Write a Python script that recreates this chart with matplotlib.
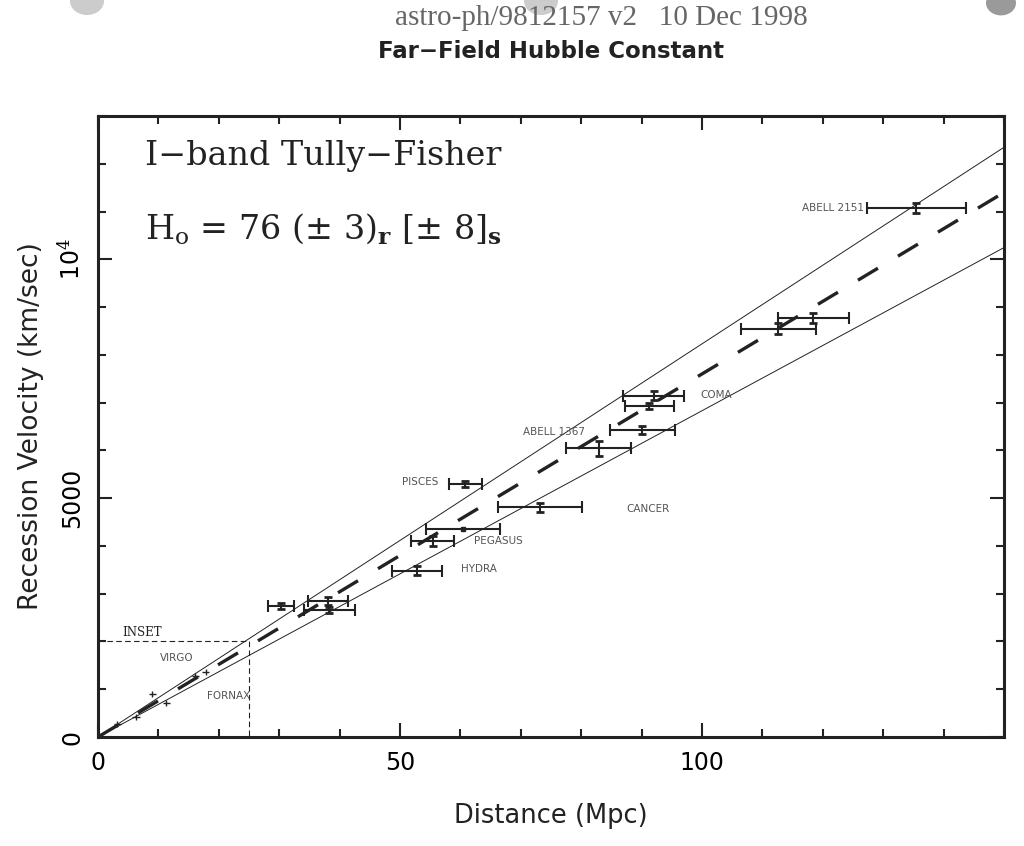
import matplotlib
matplotlib.use("Agg")
import matplotlib.pyplot as plt
from matplotlib.patches import Circle

# ---- data ----
cluster_dist = [135.5, 118.4, 112.6, 92.0, 91.3, 90.1, 82.9, 60.8, 73.2, 55.4, 52.8, 30.3, 38.1, 38.3]
cluster_vel = [11070, 8770, 8550, 7140, 6925, 6420, 6040, 5290, 4805, 4105, 3480, 2745, 2850, 2657]
cluster_derr = [8.2, 5.9, 6.2, 5.1, 4.1, 5.4, 5.4, 2.7, 7.0, 3.6, 4.2, 2.2, 3.3, 4.2]
cluster_verr = [100, 110, 120, 95, 60, 85, 155, 65, 90, 100, 90, 70, 80, 60]

square_dist = [60.4]
square_vel = [4360]
square_derr = [6.1]

near_dist = [3.2, 6.3, 9.0, 11.3, 16.1, 17.8]
near_vel = [265, 425, 900, 705, 1280, 1355]

label_names = ["ABELL 2151", "COMA", "ABELL 1367", "PISCES", "CANCER", "PEGASUS", "HYDRA", "VIRGO", "FORNAX"]
label_x = [126.8, 99.7, 70.4, 50.3, 87.4, 62.3, 60.1, 10.3, 18.0]
label_y = [11070, 7155, 6381, 5335, 4770, 4100, 3515, 1653, 858]
label_ha = ["right", "left", "left", "left", "left", "left", "left", "left", "left"]

H0 = 76
H_upper = 82.3
H_lower = 68.3
inset_d = 25
inset_v = 2000

xlim = (0, 150)
ylim = (0, 13000)

# ---- figure ----
plt.rcParams['mathtext.fontset'] = 'dejavuserif'
fig = plt.figure(figsize=(10.24, 8.46), dpi=100)
fig.patch.set_facecolor("white")

# punched-hole shadows at the top edge
for cx, cy, r, c in [(87, 1, 17, "#cccccc"), (541, 1, 17, "#cccccc"), (1001, 3, 15, "#9a9a9a")]:
    fig.patches.append(Circle((cx/1024, 1-cy/846), r/1024, transform=fig.transFigure,
                              facecolor=c, edgecolor="none", zorder=0))

ax = fig.add_axes([98/1024, 1-737/846, (1004-98)/1024, (737-116)/846])

ink = "#222222"

# lines
xs = [0, xlim[1]]
ax.plot(xs, [0, H_upper*xlim[1]], color=ink, lw=0.7)
ax.plot(xs, [0, H_lower*xlim[1]], color=ink, lw=0.7)
ax.plot(xs, [0, H0*xlim[1]], color=ink, lw=2.4, dashes=(7, 7))

# inset box
ax.plot([0, inset_d, inset_d], [inset_v, inset_v, 0], color=ink, lw=0.8, dashes=(5, 3))
ax.text(4.0, inset_v + 60, "INSET", fontsize=8.5, family="DejaVu Serif", color=ink, va="bottom")

# errorbars
ax.errorbar(cluster_dist, cluster_vel, xerr=cluster_derr, fmt="none", ecolor=ink,
            elinewidth=1.5, capsize=4, capthick=1.5)
ax.errorbar(cluster_dist, cluster_vel, yerr=cluster_verr, fmt="none", ecolor=ink,
            elinewidth=1.5, capsize=3, capthick=2)
ax.errorbar(square_dist, square_vel, xerr=square_derr, fmt="s", ms=3.5, color=ink,
            ecolor=ink, elinewidth=1.5, capsize=4, capthick=1.5)
ax.errorbar(near_dist, near_vel, xerr=0.6, yerr=60, fmt="none", ecolor=ink,
            elinewidth=1.0, capsize=0)

for name, x, y, ha in zip(label_names, label_x, label_y, label_ha):
    ax.text(x, y, name, fontsize=7.5, color="#555555", ha=ha, va="center",
            family="DejaVu Sans")

# texts in axes
ax.text(47/906, 1-(156.5-116)/621, "I\u2212band Tully\u2212Fisher", transform=ax.transAxes,
        fontsize=24, family="DejaVu Serif", color=ink, va="center")
ax.text(47/906, 1-(229-116)/621, r"H$_\mathrm{o}$ = 76 ($\pm$ 3)$_\mathbf{r}$ [$\pm$ 8]$_\mathbf{s}$",
        transform=ax.transAxes, fontsize=24, family="DejaVu Serif", color=ink, va="center")

ax.set_xlim(*xlim)
ax.set_ylim(*ylim)
ax.set_xticks([0, 50, 100])
ax.set_xticks(range(0, 151, 10), minor=True)
ax.set_yticks([0, 5000, 10000])
ax.set_yticklabels(["0", "5000", r"10$^4$"])
ax.set_yticks(range(0, 13001, 1000), minor=True)
for lab in ax.get_yticklabels():
    lab.set_rotation(90)
    lab.set_va("center")
ax.tick_params(which="both", direction="in", top=True, right=True, width=1.5, color=ink)
ax.tick_params(which="major", length=10, labelsize=17, pad=10)
ax.tick_params(which="minor", length=6)
for s in ax.spines.values():
    s.set_linewidth(2.2)
    s.set_color(ink)

ax.set_xlabel("Distance (Mpc)", fontsize=18.5, labelpad=20, color=ink)
ax.set_ylabel("Recession Velocity (km/sec)", fontsize=19, labelpad=10, color=ink)

# header texts
fig.text(601/1024, 1-18/846, "astro-ph/9812157 v2   10 Dec 1998", fontsize=21,
         family="Liberation Serif", color="#666666", ha="center", va="center")
fig.text(551/1024, 1-52/846, "Far\u2212Field Hubble Constant", fontsize=16.5,
         family="DejaVu Sans", weight="bold", color=ink, ha="center", va="center")

fig.savefig("out.png", dpi=100, facecolor="white")
